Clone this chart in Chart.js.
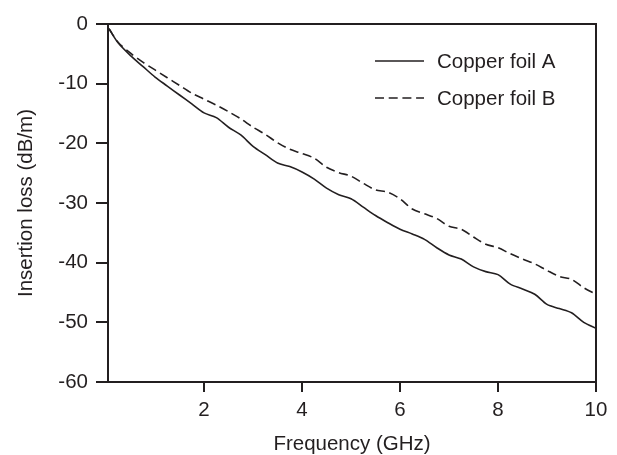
<!DOCTYPE html>
<html lang="en">
<head>
  <meta charset="UTF-8">
  <title>Insertion loss vs frequency</title>
  <script src="https://cdn.jsdelivr.net/npm/chart.js@4.4.1/dist/chart.umd.min.js"></script>
  <style>
    body {
      margin: 0;
      padding: 0;
      background-color: #fff;
    }
    #chart {
      display: block;
    }
  </style>
</head>
<body>
  <canvas id="chart" width="617" height="455"></canvas>

  <script>
    // Frequency points (GHz)
    const freq = [0.06, 0.25, 0.5, 0.75, 1.0, 1.25, 1.5, 1.75, 2.0, 2.25, 2.5, 2.75,
                  3.0, 3.25, 3.5, 3.75, 4.0, 4.25, 4.5, 4.75, 5.0, 5.25, 5.5, 5.75,
                  6.0, 6.25, 6.5, 6.75, 7.0, 7.25, 7.5, 7.75, 8.0, 8.25, 8.5, 8.75,
                  9.0, 9.25, 9.5, 9.75, 10.0];

    // Insertion loss (dB/m)
    const foilA = [-0.8, -3.2, -5.3, -7.1, -8.9, -10.4, -11.9, -13.4, -14.9, -15.7, -17.3, -18.6,
                   -20.5, -21.9, -23.3, -23.9, -24.8, -26.0, -27.5, -28.6, -29.3, -30.7, -32.1, -33.3,
                   -34.4, -35.2, -36.1, -37.5, -38.7, -39.4, -40.7, -41.5, -42.0, -43.6, -44.4, -45.3,
                   -47.0, -47.7, -48.4, -50.0, -51.0];
    const foilB = [-0.8, -3.1, -4.9, -6.4, -7.7, -9.0, -10.3, -11.6, -12.6, -13.6, -14.7, -15.9,
                   -17.3, -18.5, -19.9, -21.0, -21.7, -22.5, -24.0, -24.9, -25.5, -26.7, -27.8, -28.2,
                   -29.3, -31.0, -31.8, -32.6, -33.9, -34.4, -35.7, -36.9, -37.5, -38.5, -39.4, -40.2,
                   -41.3, -42.3, -42.8, -44.2, -45.3];

    const seriesNames = ['Copper foil A', 'Copper foil B'];
    const xTicks = [2, 4, 6, 8, 10];
    const yTicks = [-60, -50, -40, -30, -20, -10, 0];

    const ink = '#231f20';
    Chart.defaults.font.family = '"Liberation Sans", Arial, sans-serif';
    Chart.defaults.font.size = 20.5;
    Chart.defaults.color = ink;

    // box round the plot area
    const frame = {
      id: 'frame',
      afterDatasetsDraw(chart) {
        const a = chart.chartArea;
        const ctx = chart.ctx;
        ctx.save();
        ctx.strokeStyle = ink;
        ctx.lineWidth = 2;
        ctx.strokeRect(a.left, a.top, a.right - a.left, a.bottom - a.top);
        ctx.restore();
      }
    };

    // legend drawn inside the plot, top right
    const innerLegend = {
      id: 'innerLegend',
      afterDraw(chart) {
        const ctx = chart.ctx;
        ctx.save();
        ctx.font = '20.5px "Liberation Sans", Arial, sans-serif';
        ctx.textBaseline = 'middle';
        ctx.fillStyle = ink;
        chart.data.datasets.forEach((ds, i) => {
          const y = 61 + i * 37;
          ctx.strokeStyle = ink;
          ctx.lineWidth = 1.6;
          ctx.setLineDash(ds.borderDash || []);
          ctx.beginPath();
          ctx.moveTo(375, y);
          ctx.lineTo(424, y);
          ctx.stroke();
          ctx.setLineDash([]);
          ctx.fillText(ds.label, 437, y + 1);
        });
        ctx.restore();
      }
    };

    const chart = new Chart(document.getElementById('chart'), {
      type: 'line',
      data: {
        datasets: [
          {
            label: seriesNames[0],
            data: freq.map((f, i) => ({ x: f, y: foilA[i] })),
            borderColor: ink,
            borderWidth: 1.6,
            pointRadius: 0,
            tension: 0.3
          },
          {
            label: seriesNames[1],
            data: freq.map((f, i) => ({ x: f, y: foilB[i] })),
            borderColor: ink,
            borderWidth: 1.6,
            borderDash: [9, 4.7],
            pointRadius: 0,
            tension: 0.3
          }
        ]
      },
      options: {
        responsive: false,
        animation: false,
        layout: { padding: { left: 0, top: 24, right: 21, bottom: 0 } },
        plugins: {
          legend: { display: false },
          tooltip: { enabled: false }
        },
        scales: {
          x: {
            type: 'linear',
            min: 0.04,
            max: 10,
            afterBuildTicks: s => { s.ticks = xTicks.map(v => ({ value: v })); },
            afterFit: s => { s.height = 73; },
            border: { display: false },
            grid: { drawOnChartArea: false, tickLength: 10, color: ink, lineWidth: 2 },
            ticks: { padding: 6, maxRotation: 0 },
            title: { display: true, text: 'Frequency (GHz)', font: { lineHeight: 1 }, padding: { top: 0, bottom: 0 } }
          },
          y: {
            min: -60,
            max: 0,
            afterBuildTicks: s => { s.ticks = yTicks.map(v => ({ value: v })); },
            afterFit: s => { s.width = 108; },
            border: { display: false },
            grid: { drawOnChartArea: false, tickLength: 12, color: ink, lineWidth: 2 },
            ticks: { padding: 8 },
            title: { display: true, text: 'Insertion loss (dB/m)', padding: { top: 14, bottom: 0 } }
          }
        }
      },
      plugins: [frame, innerLegend]
    });
  </script>
</body>
</html>
